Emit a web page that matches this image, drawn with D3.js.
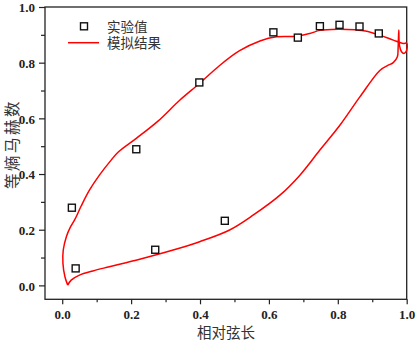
<!DOCTYPE html>
<html>
<head>
<meta charset="utf-8">
<script src="https://cdn.jsdelivr.net/npm/d3@7"></script>
<style>
  body { margin: 0; background: #fff; }
  .tick text { font-family: "Liberation Serif", "Times New Roman", serif; font-weight: bold; font-size: 13px; fill: #222; }
  .cn { font-family: "Noto Sans CJK SC", sans-serif; fill: #333; }
</style>
</head>
<body>
<div id="main"></div>
<script>
const ctx = {
    w: 417,
    h: 346,
};

// 实验值
const expX = [0.028, 0.039, 0.215, 0.270, 0.398, 0.472, 0.613, 0.684, 0.748, 0.805, 0.863, 0.919];
const expY = [0.279, 0.061, 0.489, 0.128, 0.729, 0.232, 0.909, 0.890, 0.931, 0.936, 0.930, 0.905];

// 模拟结果: upper side from leading edge to trailing edge, then back along lower side
const simX = [0.016, 0.008, 0.002, 0.003, 0.012, 0.024, 0.036, 0.055, 0.079, 0.108, 0.142, 0.162,
    0.215, 0.278, 0.341, 0.399, 0.457, 0.515, 0.574, 0.622, 0.680, 0.719, 0.748, 0.800, 0.850,
    0.880, 0.922, 0.961, 0.990, 1.000,
    1.000, 0.992, 0.985, 0.979, 0.977, 0.975, 0.973,
    0.961, 0.945, 0.922, 0.864, 0.806, 0.748, 0.690, 0.632, 0.554, 0.486, 0.399, 0.322, 0.225,
    0.137, 0.089, 0.050, 0.026, 0.016];
const simY = [0.001, 0.030, 0.080, 0.127, 0.175, 0.210, 0.235, 0.285, 0.342, 0.396, 0.450, 0.478,
    0.528, 0.590, 0.665, 0.726, 0.790, 0.843, 0.878, 0.893, 0.895, 0.905, 0.916, 0.920, 0.918,
    0.914, 0.899, 0.881, 0.869, 0.870,
    0.845, 0.833, 0.839, 0.862, 0.917, 0.850, 0.821,
    0.800, 0.790, 0.772, 0.677, 0.575, 0.486, 0.396, 0.324, 0.252, 0.199, 0.157, 0.127, 0.094,
    0.067, 0.052, 0.037, 0.019, 0.001];

const majorTicks = [0.0, 0.2, 0.4, 0.6, 0.8, 1.0];
const minorTicks = [0.1, 0.3, 0.5, 0.7, 0.9];

const xTitle = "相对弦长";
const yTitle = "等熵马赫数";
const legendNames = ["实验值", "模拟结果"];

function createViz() {
    const margin = {top: 7, right: 10.3, bottom: 46.7, left: 45};
    const width = ctx.w - margin.left - margin.right,
          height = ctx.h - margin.top - margin.bottom;

    const svgEl = d3.select("#main").append("svg")
        .attr("width", ctx.w)
        .attr("height", ctx.h);

    const x = d3.scaleLinear().domain([-0.05, 1.0]).range([0, width]);
    const y = d3.scaleLinear().domain([-0.05, 1.0]).range([height, 0]);

    const g = svgEl.append("g").attr("transform", `translate(${margin.left},${margin.top})`);

    // axes
    const fmt = d3.format(".1f");
    const xAx = g.append("g").attr("transform", `translate(0,${height})`)
        .call(d3.axisBottom(x).tickValues(majorTicks).tickFormat(fmt).tickSize(5).tickPadding(5));
    const xMin = g.append("g").attr("transform", `translate(0,${height})`)
        .call(d3.axisBottom(x).tickValues(minorTicks).tickFormat("").tickSize(3));
    const yAx = g.append("g")
        .call(d3.axisLeft(y).tickValues(majorTicks).tickFormat(fmt).tickSize(6).tickPadding(4));
    const yMin = g.append("g")
        .call(d3.axisLeft(y).tickValues(minorTicks).tickFormat("").tickSize(4));
    [xAx, xMin, yAx, yMin].forEach(a => {
        a.select(".domain").remove();
        a.selectAll(".tick line").attr("stroke", "#222").attr("stroke-width", 1.2);
    });
    yAx.selectAll(".tick text").attr("dy", "0.36em");

    // frame
    g.append("rect")
        .attr("width", width)
        .attr("height", height)
        .attr("fill", "none")
        .attr("stroke", "#222")
        .attr("stroke-width", 1.3);

    // simulation curve
    const simData = simX.map((v, i) => ({x: v, y: simY[i]}));
    const line = d3.line()
        .x(d => x(d.x))
        .y(d => y(d.y))
        .curve(d3.curveCatmullRom.alpha(0.5));
    g.append("path")
        .datum(simData)
        .attr("d", line)
        .attr("fill", "none")
        .attr("stroke", "#ff0000")
        .attr("stroke-width", 1.5)
        .attr("stroke-linejoin", "round");

    // experimental points
    const sq = 7;
    const expData = expX.map((v, i) => ({x: v, y: expY[i]}));
    g.selectAll(".pt")
        .data(expData)
        .enter().append("rect")
        .attr("class", "pt")
        .attr("x", d => x(d.x) - sq / 2)
        .attr("y", d => y(d.y) - sq / 2)
        .attr("width", sq)
        .attr("height", sq)
        .attr("fill", "#fff")
        .attr("stroke", "#111")
        .attr("stroke-width", 1.4);

    // legend
    svgEl.append("rect")
        .attr("x", 84 - sq / 2).attr("y", 26.3 - sq / 2)
        .attr("width", sq).attr("height", sq)
        .attr("fill", "#fff").attr("stroke", "#111").attr("stroke-width", 1.4);
    svgEl.append("line")
        .attr("x1", 68).attr("x2", 99).attr("y1", 42.7).attr("y2", 42.7)
        .attr("stroke", "#ff0000").attr("stroke-width", 1.5);
    svgEl.append("text").attr("class", "cn")
        .attr("x", 107).attr("y", 31.5)
        .style("font-size", "13.5px")
        .text(legendNames[0]);
    svgEl.append("text").attr("class", "cn")
        .attr("x", 107).attr("y", 48)
        .style("font-size", "13.5px")
        .text(legendNames[1]);

    // axis titles
    svgEl.append("text").attr("class", "cn")
        .attr("x", 226).attr("y", 338)
        .attr("text-anchor", "middle")
        .style("font-size", "14.5px")
        .text(xTitle);
    svgEl.append("text").attr("class", "cn")
        .attr("transform", "translate(18,144) rotate(-90)")
        .attr("text-anchor", "middle")
        .style("font-size", "15.5px")
        .style("letter-spacing", "2.5px")
        .text(yTitle);
}

createViz();
</script>
</body>
</html>
